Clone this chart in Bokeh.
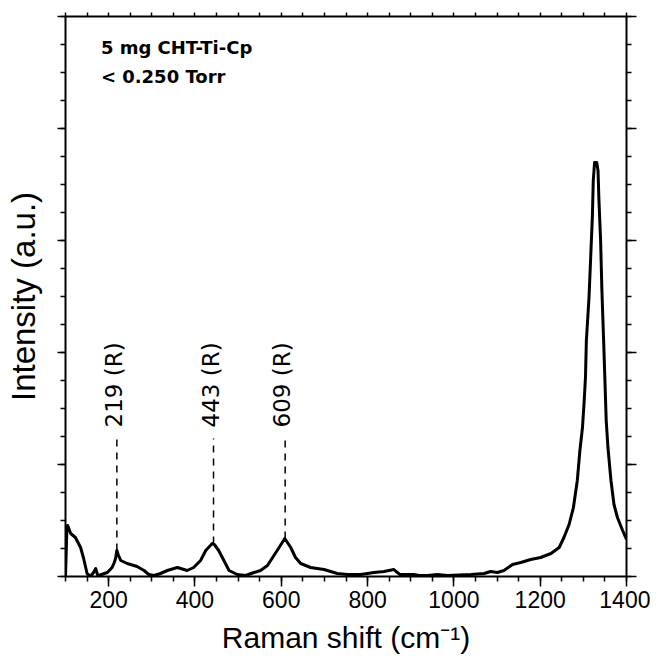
from math import pi
from bokeh.plotting import figure
from bokeh.models import LinearAxis, FixedTicker, Range1d, Label
from bokeh.embed import file_html
from bokeh.resources import INLINE
from bokeh.core.properties import value

# Raman spectrum (intensity in arbitrary units)
raman_shift = [100, 103, 105, 112, 123, 135, 142, 150, 158, 165, 170, 174, 177, 190, 197,
               208, 213, 216, 219, 222, 228, 243, 266, 282, 293, 305, 320, 336, 359, 367,
               382, 397, 413, 425, 440, 445, 455, 467, 479, 498, 517, 537, 552, 568, 583,
               595, 608, 622, 633, 645, 668, 699, 730, 753, 784, 815, 838, 861, 866, 875,
               884, 907, 920, 939, 962, 985, 1039, 1070, 1085, 1101, 1116, 1136, 1155, 1178,
               1201, 1225, 1244, 1255, 1267, 1277, 1286, 1292, 1298, 1302, 1305, 1307, 1313,
               1317, 1321, 1323, 1326, 1331, 1334, 1336, 1340, 1343, 1347, 1350, 1353, 1357,
               1364, 1371, 1379, 1391, 1400]
intensity = [0, 45, 51, 43, 39, 29, 18, 3, 0, 4, 8, 2, 1, 3, 4,
             9, 14, 18, 26, 22, 16, 13, 10, 6, 2, 1, 3, 6, 9, 8,
             6, 9, 16, 26, 33, 32, 26, 16, 6, 2, 1, 4, 6, 11, 21,
             29, 38, 29, 19, 13, 9, 7, 3, 2, 2, 4, 5, 7, 5, 2,
             2, 2, 1, 1, 2, 1, 2, 3, 5, 4, 6, 12, 14, 17,
             19, 23, 29, 39, 52, 69, 96, 126, 149, 176, 200, 236, 278,
             319, 361, 396, 414, 414, 406, 378, 336, 286, 236, 196, 156, 129,
             96, 72, 59, 46, 37]

# rutile band annotations
peak_positions = [219, 443, 609]
peak_tops = [26, 33, 38]
peak_labels = ["219 (R)", "443 (R)", "609 (R)"]
guide_top = 138
label_level = 149

x_major_ticks = [200, 400, 600, 800, 1000, 1200, 1400]
x_minor_ticks = list(range(100, 1401, 50))
y_major_ticks = [0, 112, 224, 336, 448, 560]
y_minor_ticks = list(range(0, 561, 28))

sample_lines = ["5 mg CHT-Ti-Cp", "< 0.250 Torr"]

p = figure(width=650, height=660, output_backend="svg", toolbar_location=None,
           x_range=Range1d(100, 1400), y_range=Range1d(0, 560),
           min_border_left=65, min_border_right=24, min_border_top=16, min_border_bottom=84,
           x_axis_label="Raman shift (cm\u207b\u00b9)", y_axis_label="Intensity (a.u.)")
p.outline_line_color = None
p.xgrid.visible = False
p.ygrid.visible = False
p.background_fill_color = "white"
p.border_fill_color = "white"

AXIS_FONT = "Liberation Sans"


def style_ticks(ax, major_out, minor_out):
    ax.major_tick_in = 0
    ax.major_tick_out = major_out
    ax.minor_tick_in = 0
    ax.minor_tick_out = minor_out
    ax.axis_line_width = 2
    ax.major_tick_line_width = 1.5
    ax.minor_tick_line_width = 1.5


def hide_labels(ax):
    ax.major_label_text_color = None
    ax.major_label_text_font_size = "1px"
    ax.major_label_standoff = 0


# bottom axis
xa = p.xaxis[0]
xa.ticker = FixedTicker(ticks=x_major_ticks, minor_ticks=x_minor_ticks)
style_ticks(xa, 10, 5)
xa.major_label_text_font = AXIS_FONT
xa.major_label_text_font_size = "23px"
xa.major_label_text_color = "black"
xa.major_label_standoff = 4
xa.axis_label_text_font = AXIS_FONT
xa.axis_label_text_font_size = "30px"
xa.axis_label_text_font_style = "normal"
xa.axis_label_text_color = "black"
xa.axis_label_standoff = 10

# left axis
ya = p.yaxis[0]
ya.ticker = FixedTicker(ticks=y_major_ticks, minor_ticks=y_minor_ticks)
style_ticks(ya, 8, 5)
hide_labels(ya)
ya.axis_label_text_font = AXIS_FONT
ya.axis_label_text_font_size = "33px"
ya.axis_label_text_font_style = "normal"
ya.axis_label_text_color = "black"
ya.axis_label_standoff = 16

# right axis
ra = LinearAxis(ticker=FixedTicker(ticks=y_major_ticks, minor_ticks=y_minor_ticks))
style_ticks(ra, 10, 5)
hide_labels(ra)
p.add_layout(ra, "right")

# top axis
ta = LinearAxis(ticker=FixedTicker(ticks=x_minor_ticks, minor_ticks=[]))
style_ticks(ta, 4, 0)
hide_labels(ta)
p.add_layout(ta, "above")

# spectrum
p.line(raman_shift, intensity, line_color="black", line_width=3, line_join="round")

# peak guides and labels
p.segment(x0=peak_positions, y0=peak_tops, x1=peak_positions,
          y1=[guide_top] * len(peak_positions),
          line_color="black", line_width=1.5, line_dash="7 6")
p.text(x=peak_positions, y=[label_level] * len(peak_positions), text=peak_labels,
       angle=pi / 2, text_align="left", text_baseline="middle", x_offset=-3,
       text_font=value("DejaVu Sans"), text_font_size="23px", text_color="black")

# sample description
for i, line in enumerate(sample_lines):
    p.add_layout(Label(x=182, y=529 - 29 * i, text=line, text_font="DejaVu Sans",
                       text_font_style="bold", text_font_size="18px",
                       text_baseline="alphabetic", text_color="black"))

open("out.html", "w").write(file_html(p, INLINE))
